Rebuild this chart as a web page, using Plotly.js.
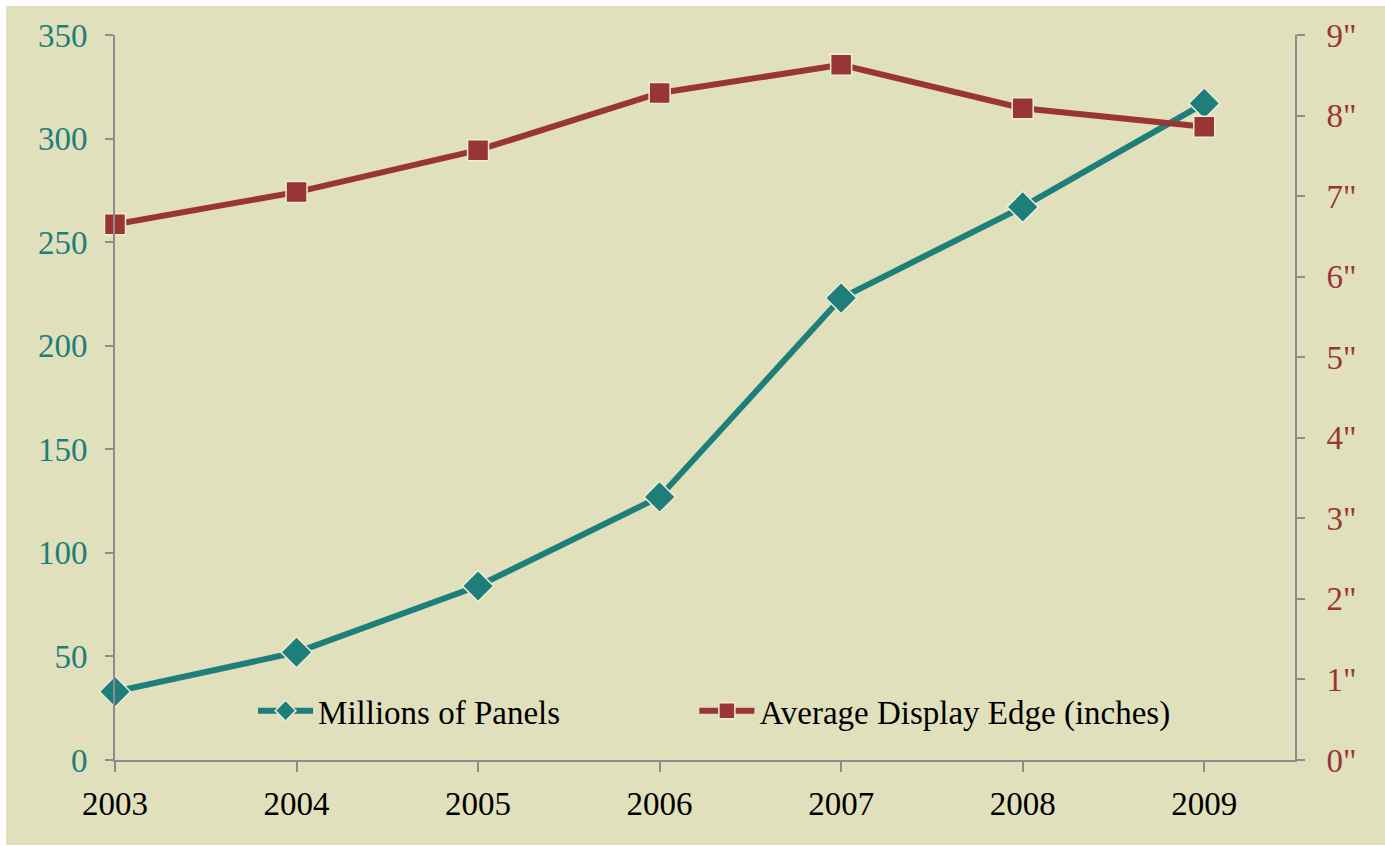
<!DOCTYPE html>
<html>
<head>
<meta charset="utf-8">
<script src="https://cdn.plot.ly/plotly-3.0.1.min.js"></script>
<style>
  html, body { margin: 0; padding: 0; background: #ffffff; }
  #chart { position: absolute; left: 6px; top: 6px; width: 1379px; height: 839px; }
</style>
</head>
<body>
<div id="chart"></div>
<script>
// Panel shipments and average display size, 2003-2009
const years = ['2003', '2004', '2005', '2006', '2007', '2008', '2009'];
const millionsOfPanels = [33, 52, 84, 127, 223, 267, 317];
const avgDisplayEdge = [6.65, 7.05, 7.57, 8.28, 8.63, 8.09, 7.86];

const teal = '#1E7E7A';
const red = '#9A3535';
const beige = '#E1E0BC';
const axisGray = '#8C8C8C';
const serif = 'Liberation Serif';

const traces = [
  {
    x: years, y: millionsOfPanels, name: 'Millions of Panels',
    type: 'scatter', mode: 'lines+markers', yaxis: 'y', legend: 'legend',
    cliponaxis: false,
    line: { color: teal, width: 6 },
    marker: { symbol: 'diamond', size: 24, color: teal, line: { color: '#EEEDD6', width: 1.5 } }
  },
  {
    x: years, y: avgDisplayEdge, name: 'Average Display Edge (inches)',
    type: 'scatter', mode: 'lines+markers', yaxis: 'y2', legend: 'legend2',
    cliponaxis: false,
    line: { color: red, width: 6 },
    marker: { symbol: 'square', size: 21, color: red, line: { color: '#EEEDD6', width: 1.5 } }
  }
];

const legendStyle = {
  yanchor: 'middle', y: 0.068, xanchor: 'left',
  bgcolor: 'rgba(0,0,0,0)', borderwidth: 0, itemwidth: 55,
  font: { family: serif, size: 33, color: '#000000' }
};

const layout = {
  width: 1379, height: 839,
  font: { family: serif },
  paper_bgcolor: beige, plot_bgcolor: beige,
  margin: { l: 109, r: 90, t: 29, b: 85 },
  showlegend: true,
  legend: Object.assign({}, legendStyle, { x: 0.117 }),
  legend2: Object.assign({}, legendStyle, { x: 0.491 }),
  xaxis: {
    type: 'category', range: [0, 6.5],
    showgrid: false, zeroline: false,
    showline: true, linecolor: axisGray, linewidth: 2,
    ticks: 'outside', ticklen: 10, tickwidth: 2, tickcolor: axisGray,
    ticklabelstandoff: 3,
    tickfont: { family: serif, size: 33, color: '#000000' }
  },
  yaxis: {
    range: [0, 350], dtick: 50, tick0: 0,
    showgrid: false, zeroline: false,
    showline: true, linecolor: axisGray, linewidth: 2,
    ticks: 'outside', ticklen: 8, tickwidth: 2, tickcolor: axisGray,
    ticklabelstandoff: 11,
    tickfont: { family: serif, size: 33, color: teal }
  },
  yaxis2: {
    overlaying: 'y', side: 'right',
    range: [0, 9], dtick: 1, tick0: 0, ticksuffix: '"',
    showgrid: false, zeroline: false,
    showline: true, linecolor: axisGray, linewidth: 2,
    ticks: 'outside', ticklen: 8, tickwidth: 2, tickcolor: axisGray,
    ticklabelstandoff: 15,
    tickfont: { family: serif, size: 33, color: red }
  }
};

Plotly.newPlot('chart', traces, layout, { staticPlot: true, displayModeBar: false });
</script>
</body>
</html>
